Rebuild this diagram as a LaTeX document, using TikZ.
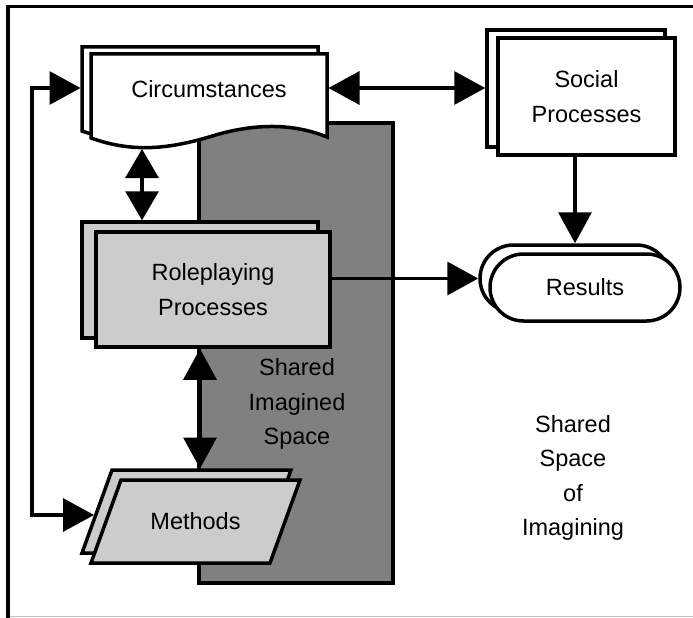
\documentclass[tikz,border=0pt]{standalone}
\usepackage{fontspec}
\setmainfont{Liberation Sans}
\usetikzlibrary{arrows.meta,shapes.misc}
\definecolor{lightg}{gray}{0.8}
\definecolor{darkg}{gray}{0.5}
\begin{document}
\begin{tikzpicture}[x=1pt,y=-1pt,
  every node/.style={font=\fontsize{23.5}{34.5}\selectfont, align=center, inner sep=0pt, outer sep=0pt},
  shp/.style={draw=black, line width=3.5pt, outer sep=1.75pt},
  box/.style={shp, rectangle},
  conn/.style={line width=3.3pt},
  >={Triangle[length=31pt,width=33pt]}]
\useasboundingbox (0,0) rectangle (693,618);
% frame
\draw[line width=3.5pt] (8,618) -- (8,6.5) -- (693,6.5);
\draw[line width=1.2pt, draw=black!25] (9.5,616.5) -- (693,616.5);
% shared imagined space
\draw[shp, fill=darkg] (199,123) rectangle (393,583);
\node (sis) at (297,404) {Shared\\Imagined\\Space};
% circumstances
\begin{scope}[shift={(-9,-7)}]
\draw[shp, fill=white] (91,54) -- (327,54) -- (327,137) .. controls (290,122) and (250,124) .. (209,137) .. controls (165,150) and (130,152) .. (91,138) -- cycle;
\end{scope}
\draw[shp, fill=white] (91,54) -- (327,54) -- (327,137) .. controls (290,122) and (250,124) .. (209,137) .. controls (165,150) and (130,152) .. (91,138) -- cycle;
\node (circ) at (209,89) {Circumstances};
\coordinate (circL) at (80.5,88);
\coordinate (circR) at (328.5,88);
\coordinate (circB) at (142,149);
% social processes
\node[box, fill=white, minimum width=178pt, minimum height=117pt] (socb) at (576,88.5) {};
\node[box, fill=white, minimum width=177pt, minimum height=117pt] (soc) at (586.5,96.5) {Social\\Processes};
% roleplaying processes
\node[box, fill=lightg, minimum width=236pt, minimum height=116pt] (roleb) at (200,280) {};
\node[box, fill=lightg, minimum width=234pt, minimum height=115pt] (role) at (213,289.5) {Roleplaying\\Processes};
% results
\node[shp, rounded rectangle, fill=white, minimum width=190pt, minimum height=67pt] (resb) at (575,278.5) {};
\node[shp, rounded rectangle, fill=white, minimum width=190pt, minimum height=67pt] (res) at (585,287.5) {Results};
% methods
\draw[shp, fill=lightg] (112,470) -- (291,470) -- (261,553) -- (82,553) -- cycle;
\draw[shp, fill=lightg] (121,480) -- (300,480) -- (270,563) -- (91,563) -- cycle;
\node (meth) at (195.5,521) {Methods};
\coordinate (methT) at (200,468.5);
\coordinate (methL) at (94,515);
% space of imagining
\node (ssi) at (573,478) {Shared\\Space\\of\\Imagining};
% connectors
\draw[conn,<->] (circR) -- (circR -| socb.west);
\draw[conn,->] (soc.south -| resb.north) -- (resb.north);
\draw[conn,->] (role.east |- resb.west) -- (resb.west);
\draw[conn,<->, >={Triangle[length=29pt,width=33pt]}] (circB) -- (circB |- roleb.north);
\draw[conn,<->] (role.south -| roleb.south) -- (methT);
\draw[conn,<->] (circL) -- (32,88) -- (32,515) -- (methL);
\end{tikzpicture}
\end{document}
